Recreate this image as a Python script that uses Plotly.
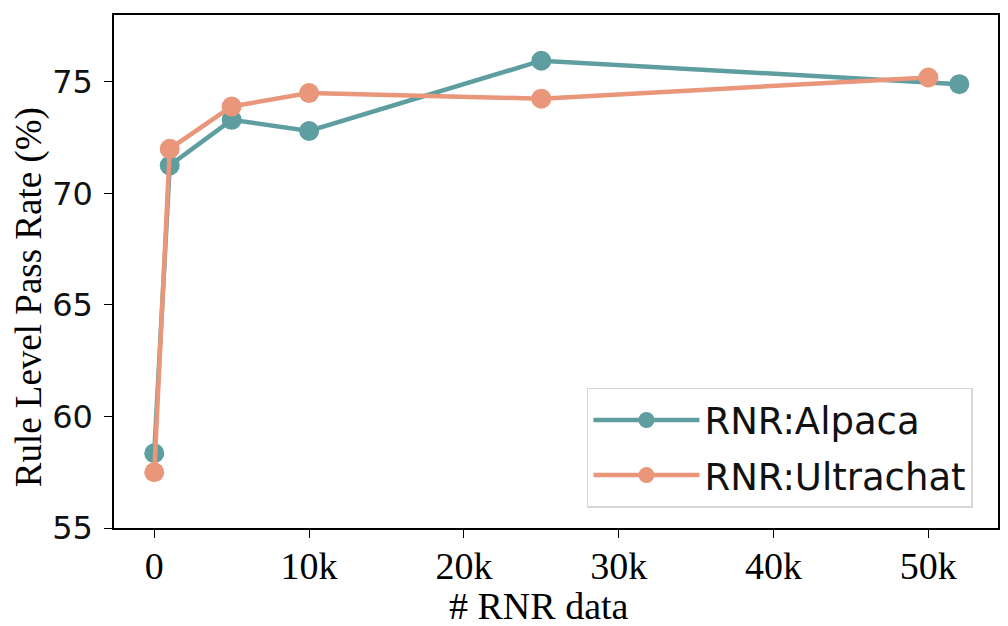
import plotly.graph_objects as go

x_alpaca = [0, 1000, 5000, 10000, 25000, 52000]
y_alpaca = [58.35, 71.25, 73.3, 72.8, 75.95, 74.9]
x_ultra = [0, 1000, 5000, 10000, 25000, 50000]
y_ultra = [57.5, 72.0, 73.9, 74.5, 74.25, 75.2]

x_tickvals = [0, 10000, 20000, 30000, 40000, 50000]
x_ticktext = ["0", "10k", "20k", "30k", "40k", "50k"]
y_tickvals = [55, 60, 65, 70, 75]

teal = "#5F9EA0"
salmon = "#E9967A"

fig = go.Figure()
fig.add_trace(go.Scatter(x=x_alpaca, y=y_alpaca, mode="lines+markers", name="RNR:Alpaca",
                         legendgroup="a",
                         line=dict(color=teal, width=4.5), marker=dict(color=teal, size=20)))
fig.add_trace(go.Scatter(x=x_ultra, y=y_ultra, mode="lines+markers", name="RNR:Ultrachat",
                         legendgroup="b",
                         line=dict(color=salmon, width=4.5), marker=dict(color=salmon, size=20)))

# page body has an 8px margin, so the figure is 1000x618 placed at (8, 8)
fig.update_layout(
    width=1000, height=618,
    margin=dict(l=106, r=10, t=7, b=98, autoexpand=False),
    paper_bgcolor="white", plot_bgcolor="white",
    showlegend=True,
    legend=dict(x=0.535, y=0.273, xanchor="left", yanchor="top",
                bgcolor="rgba(255,255,255,0.8)", bordercolor="#d6d6d6", borderwidth=1.5,
                font=dict(family="DejaVu Sans", size=37, color="#111"),
                tracegroupgap=4, itemwidth=106, traceorder="grouped"),
    annotations=[
        dict(text="Rule Level Pass Rate (%)", xref="paper", yref="paper",
             x=-0.096, y=0.45, xanchor="center", yanchor="middle", textangle=-90,
             showarrow=False, borderpad=0,
             font=dict(family="Liberation Serif", size=37, color="black")),
        dict(text="# RNR data", xref="paper", yref="paper",
             x=0.481, y=-0.152, xanchor="center", yanchor="middle",
             showarrow=False, font=dict(family="Liberation Serif", size=38, color="black")),
    ],
)
fig.update_xaxes(range=[-2600, 54500], tickvals=x_tickvals, ticktext=x_ticktext, automargin=False,
                 showgrid=False, zeroline=False, showline=True, linecolor="black", linewidth=1.5,
                 mirror=True, ticks="outside", ticklen=8, tickwidth=1.3, tickcolor="black",
                 ticklabelstandoff=-4,
                 tickfont=dict(family="Liberation Serif", size=38, color="black"))
fig.update_yaxes(range=[55, 78], tickvals=y_tickvals, automargin=False,
                 showgrid=False, zeroline=False, showline=True, linecolor="black", linewidth=1.5,
                 mirror=True, ticks="outside", ticklen=8, tickwidth=1.3, tickcolor="black",
                 ticklabelstandoff=5,
                 tickfont=dict(family="DejaVu Sans", size=32, color="#111"))

fig.write_html("out.html")
